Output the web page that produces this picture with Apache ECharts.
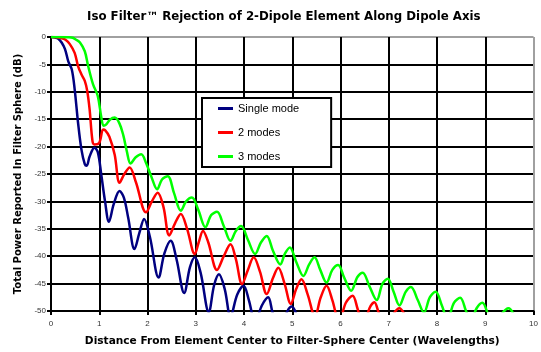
<!DOCTYPE html>
<html><head><meta charset="utf-8">
<script src="https://cdn.jsdelivr.net/npm/echarts@6/dist/echarts.min.js"></script>
<style>html,body{margin:0;padding:0;background:#fff}#c{width:541px;height:352px}</style>
</head><body><div id="c"></div>
<script>
var titleText = 'Iso Filter\u2122 Rejection of 2-Dipole Element Along Dipole Axis';
var xName = 'Distance From Element Center to Filter-Sphere Center (Wavelengths)';
var yName = 'Total Power Reported In Filter Sphere (dB)';
var seriesNames = ['Single mode', '2 modes', '3 modes'];
var seriesColors = ['#000080', '#ff0000', '#00ff00'];

var singleMode = [[0,0],[0.08,-0.1],[0.15,-0.3],[0.22,-1],[0.29,-2.2],[0.36,-4.5],[0.43,-5.9],[0.49,-9.5],[0.56,-15.6],[0.63,-20.5],[0.7,-23.2],[0.74,-23.5],[0.8,-21.8],[0.9,-20.2],[0.97,-21],[1.04,-25],[1.12,-30],[1.2,-33.7],[1.3,-30.5],[1.42,-28.1],[1.51,-29.3],[1.6,-33],[1.73,-38.7],[1.83,-35.8],[1.93,-33.2],[2.05,-36.5],[2.23,-43.9],[2.35,-39.5],[2.48,-37.2],[2.6,-40.5],[2.76,-46.7],[2.88,-42],[2.98,-40.2],[3.1,-43],[3.27,-50.2],[3.38,-45.3],[3.48,-43.3],[3.6,-46],[3.72,-51],[3.86,-47],[3.99,-45.4],[4.1,-48],[4.23,-52],[4.37,-49],[4.5,-47.5],[4.6,-50.5],[4.75,-53],[4.9,-50],[4.99,-49.2],[5.08,-50.5],[5.15,-53]];

var twoModes = [[0,0],[0.1,-0.05],[0.2,-0.2],[0.3,-0.5],[0.39,-1.3],[0.49,-2.9],[0.56,-5.3],[0.63,-6.8],[0.7,-8],[0.75,-9.8],[0.8,-13.2],[0.86,-19],[0.9,-19.6],[1.0,-19.3],[1.08,-16.9],[1.12,-17],[1.21,-18.2],[1.32,-21.5],[1.42,-26.6],[1.52,-25],[1.63,-23.8],[1.76,-26.5],[1.97,-32],[2.09,-30],[2.21,-28.4],[2.33,-31],[2.45,-36.2],[2.57,-34],[2.69,-32.3],[2.82,-35],[2.98,-39.6],[3.06,-37.5],[3.15,-35.4],[3.26,-37.5],[3.44,-42.5],[3.58,-40],[3.72,-37.8],[3.83,-40.5],[3.96,-45.1],[4.08,-42.5],[4.2,-40.2],[4.33,-42.8],[4.47,-46.9],[4.6,-44],[4.71,-42.1],[4.84,-45],[4.97,-48.7],[5.08,-46],[5.19,-44.2],[5.32,-47],[5.47,-51],[5.59,-47.5],[5.71,-45.4],[5.83,-48],[5.97,-52],[6.11,-48.5],[6.25,-47.2],[6.35,-49.5],[6.47,-53],[6.6,-49.5],[6.7,-48.4],[6.8,-50.5],[6.95,-53],[7.1,-50.5],[7.22,-49.5],[7.32,-50.5],[7.45,-53]];

var threeModes = [[0,0],[0.2,0],[0.35,-0.05],[0.45,-0.15],[0.52,-0.5],[0.6,-1],[0.7,-2.6],[0.77,-5.3],[0.87,-8.6],[0.97,-10.8],[1.04,-14.5],[1.09,-16.2],[1.14,-16],[1.22,-15.1],[1.32,-14.7],[1.42,-15.8],[1.5,-18],[1.57,-20.8],[1.65,-23.1],[1.75,-22],[1.87,-21.4],[1.97,-23],[2.08,-25.5],[2.2,-27.8],[2.3,-26],[2.42,-25.4],[2.55,-28.5],[2.69,-31.7],[2.8,-30],[2.92,-29.3],[3.05,-31.5],[3.2,-34.7],[3.32,-32.5],[3.44,-31.9],[3.58,-34.5],[3.72,-37.2],[3.83,-35.4],[3.94,-34.5],[4.08,-37],[4.23,-39.6],[4.35,-37.5],[4.47,-36.3],[4.6,-39],[4.75,-41.5],[4.85,-39.5],[4.95,-38.4],[5.08,-41],[5.23,-43.6],[5.35,-41.5],[5.46,-40.2],[5.58,-42.5],[5.71,-44.8],[5.83,-42.5],[5.95,-41.6],[6.08,-44],[6.22,-46.3],[6.35,-43.8],[6.46,-43],[6.6,-45.5],[6.75,-48],[6.87,-45],[6.98,-44.1],[7.1,-46.5],[7.22,-49],[7.35,-46.5],[7.46,-45.6],[7.6,-48],[7.73,-50.3],[7.85,-47.5],[7.97,-46.5],[8.1,-49],[8.22,-51.5],[8.35,-48.5],[8.48,-47.6],[8.6,-50],[8.7,-52],[8.82,-49.5],[8.94,-48.5],[9.05,-50.5],[9.15,-53],[9.3,-51],[9.48,-49.5],[9.58,-50.5],[9.68,-53]];

var xTicks = [0,1,2,3,4,5,6,7,8,9,10];
var yTicks = [0,-5,-10,-15,-20,-25,-30,-35,-40,-45,-50];

var FONT = 'Liberation Sans, Arial, sans-serif';
var BOLDFONT = 'DejaVu Sans, Liberation Sans, sans-serif';
var xLineColors = xTicks.map(function(v, i){ return i === xTicks.length - 1 ? '#a0a0a0' : '#000'; });
var yLineColors = yTicks.slice().reverse().map(function(v, i){ return i === yTicks.length - 1 ? '#a0a0a0' : '#000'; });

var chart = echarts.init(document.getElementById('c'), null, {renderer: 'canvas'});
var dataSets = [singleMode, twoModes, threeModes];
chart.setOption({
  animation: false,
  backgroundColor: '#fff',
  title: {
    text: titleText, left: 82, top: 6,
    textStyle: {fontFamily: BOLDFONT, fontSize: 11.8, fontWeight: 'bold', color: '#000'}
  },
  legend: {
    orient: 'vertical', left: 202, top: 98,
    data: seriesNames,
    icon: 'rect', itemWidth: 15, itemHeight: 3, itemGap: 13,
    padding: [5, 32, 5, 16],
    borderColor: '#000', borderWidth: 2, backgroundColor: '#fff',
    textStyle: {fontFamily: FONT, fontSize: 11, color: '#000'}
  },
  grid: {left: 51, right: 4, top: 37, bottom: 40, containLabel: false},
  xAxis: {
    type: 'value', min: 0, max: 10, interval: 1,
    name: xName, nameLocation: 'middle', nameGap: 25,
    nameTextStyle: {fontFamily: BOLDFONT, fontSize: 10.6, fontWeight: 'bold', color: '#000'},
    axisLine: {show: true, onZero: false, lineStyle: {color: '#000', width: 2}},
    axisTick: {show: true, length: 4, lineStyle: {color: '#000', width: 2}},
    axisLabel: {fontFamily: FONT, fontSize: 8, color: '#333', margin: 9,
      formatter: function(v){ return xTicks.indexOf(v) >= 0 ? String(v) : ''; }},
    splitLine: {show: true, lineStyle: {color: xLineColors, width: 2}}
  },
  yAxis: {
    type: 'value', min: -50, max: 0, interval: 5,
    name: yName, nameLocation: 'middle', nameGap: 20, nameRotate: 90,
    nameTextStyle: {fontFamily: BOLDFONT, fontSize: 10, fontWeight: 'bold', color: '#000'},
    axisLine: {show: true, onZero: false, lineStyle: {color: '#000', width: 2}},
    axisTick: {show: true, length: 4, lineStyle: {color: '#000', width: 2}},
    axisLabel: {fontFamily: FONT, fontSize: 8, color: '#333', margin: 5,
      formatter: function(v){ return yTicks.indexOf(v) >= 0 ? String(v) : ''; }},
    splitLine: {show: true, lineStyle: {color: yLineColors, width: 2}}
  },
  series: seriesNames.map(function(n, i){
    return {
      name: n, type: 'line', data: dataSets[i], showSymbol: false, symbol: 'none',
      smooth: 0.35, clip: true,
      lineStyle: {color: seriesColors[i], width: 2.5},
      itemStyle: {color: seriesColors[i]}, z: 3 + i
    };
  })
});
</script></body></html>
